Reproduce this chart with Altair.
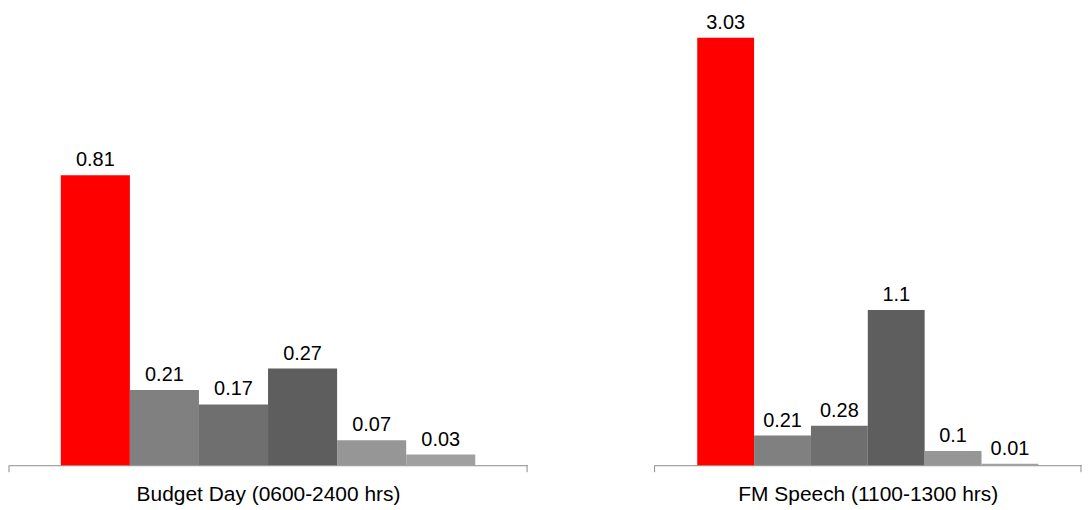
import altair as alt
import pandas as pd

panel_titles = ["Budget Day (0600-2400 hrs)", "FM Speech (1100-1300 hrs)"]
categories = ["S1", "S2", "S3", "S4", "S5", "S6"]
budget_day = [0.81, 0.21, 0.17, 0.27, 0.07, 0.03]
fm_speech = [3.03, 0.21, 0.28, 1.1, 0.1, 0.01]
colors = ["#ff0000", "#808080", "#6f6f6f", "#5e5e5e", "#969696", "#a0a0a0"]

FONT = "Liberation Sans"
AXIS_COLOR = "#8c8c8c"
H = 458


def panel(title, values, width, ymax):
    df = pd.DataFrame({
        "cat": categories,
        "v": values,
        "label": [f"{v:g}" for v in values],
    })
    base = alt.Chart(df).encode(
        x=alt.X(
            "cat:N",
            sort=categories,
            scale=alt.Scale(paddingInner=0, paddingOuter=0.75),
            axis=alt.Axis(
                title=title,
                labels=False,
                ticks=False,
                domainColor=AXIS_COLOR,
                domainWidth=1,
                titleFont=FONT,
                titleFontSize=21,
                titleFontWeight="normal",
                titleColor="#000000",
                titlePadding=18,
            ),
        ),
        y=alt.Y("v:Q", scale=alt.Scale(domain=[0, ymax], nice=False, zero=True), axis=None),
    )
    bars = base.mark_bar().encode(
        color=alt.Color("cat:N", scale=alt.Scale(domain=categories, range=colors), legend=None)
    )
    text = base.mark_text(dy=-15, fontSize=20, font=FONT, color="#000000").encode(text="label:N")
    tick_l = alt.Chart(df.head(1)).mark_rule(color=AXIS_COLOR).encode(
        x=alt.value(0), y=alt.value(H), y2=alt.value(H + 7)
    )
    tick_r = alt.Chart(df.head(1)).mark_rule(color=AXIS_COLOR).encode(
        x=alt.value(width), y=alt.value(H), y2=alt.value(H + 7)
    )
    return alt.layer(bars, text, tick_l, tick_r).properties(width=width, height=H)


# pixel-per-unit: 0.81 -> 291 px, 3.03 -> 429 px
left = panel(panel_titles[0], budget_day, 520, H * 0.81 / 291)
right = panel(panel_titles[1], fm_speech, 428, H * 3.03 / 429)

chart = (
    alt.hconcat(left, right, spacing=126)
    .properties(padding=0)
    .configure_view(stroke=None)
)

chart.save("out.html", embed_options={"renderer": "svg", "actions": False})
